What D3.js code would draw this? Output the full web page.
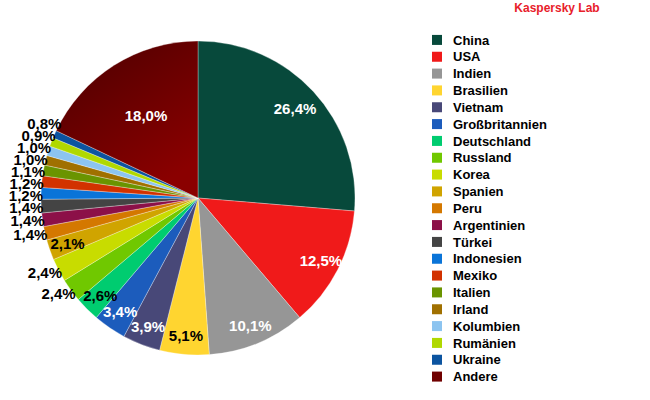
<!DOCTYPE html>
<html>
<head>
<meta charset="utf-8">
<style>
  body { margin: 0; background: #fff; }
  text { font-family: "Liberation Sans", Arial, sans-serif; font-weight: bold; }
</style>
</head>
<body>
<svg id="chart" width="650" height="400"></svg>
<script src="https://cdn.jsdelivr.net/npm/d3@7"></script>
<script>
  // data
  var countries = ["China", "USA", "Indien", "Brasilien", "Vietnam", "Großbritannien",
    "Deutschland", "Russland", "Korea", "Spanien", "Peru", "Argentinien", "Türkei",
    "Indonesien", "Mexiko", "Italien", "Irland", "Kolumbien", "Rumänien", "Ukraine", "Andere"];
  var shares = [26.4, 12.5, 10.1, 5.1, 3.9, 3.4, 2.6, 2.4, 2.4, 2.1, 1.4, 1.4, 1.4,
    1.2, 1.2, 1.1, 1.0, 1.0, 0.9, 0.8, 18.0];
  var colors = ["#07493b", "#f01a1a", "#969696", "#ffd530", "#484878", "#1c5cbc",
    "#00cc70", "#70c800", "#c8dc00", "#d0a400", "#d47800", "#8c1048", "#444444",
    "#0a74d8", "#d23200", "#6a9400", "#a07000", "#8cc4f0", "#b0d800", "#0c54a0", "#700000"];

  // which labels sit outside the pie, and label tweaks
  var outside = ["Russland", "Korea", "Peru", "Argentinien", "Türkei", "Indonesien",
    "Mexiko", "Italien", "Irland", "Kolumbien", "Rumänien", "Ukraine"];
  var whiteText = ["China", "USA", "Indien", "Vietnam", "Großbritannien", "Andere"];
  var labelRadius = { "China": 0.84, "Andere": 0.62 };

  var cx = 198, cy = 198, R = 157;
  var svg = d3.select("#chart");

  var defs = svg.append("defs");
  var grad = defs.append("linearGradient")
    .attr("id", "andere")
    .attr("x1", "0").attr("y1", "0").attr("x2", "0.6").attr("y2", "1");
  grad.append("stop").attr("offset", "0%").attr("stop-color", "#4a0000");
  grad.append("stop").attr("offset", "100%").attr("stop-color", "#8a0000");

  var fmt = v => d3.format(".1f")(v).replace(".", ",") + "%";

  var pie = d3.pie().sort(null).value(d => d.v);
  var slices = pie(countries.map((c, i) => ({ name: c, v: shares[i], color: colors[i] })));
  var arc = d3.arc().innerRadius(0).outerRadius(R);

  var g = svg.append("g").attr("transform", "translate(" + cx + "," + cy + ")");

  g.selectAll("path.slice")
    .data(slices)
    .enter()
    .append("path")
    .attr("class", "slice")
    .attr("d", arc)
    .attr("fill", d => d.data.name === "Andere" ? "url(#andere)" : d.data.color)
    .attr("stroke", "#ffffff")
    .attr("stroke-opacity", 0.5)
    .attr("stroke-width", 0.6);

  // inside labels
  var inner = slices.filter(d => outside.indexOf(d.data.name) < 0);
  g.selectAll("text.inner")
    .data(inner)
    .enter()
    .append("text")
    .attr("class", "inner")
    .attr("text-anchor", "middle")
    .attr("dy", "0.35em")
    .attr("font-size", "15px")
    .attr("fill", d => whiteText.indexOf(d.data.name) >= 0 ? "#ffffff" : "#000000")
    .attr("transform", d => {
      var a = (d.startAngle + d.endAngle) / 2;
      var r = R * (labelRadius[d.data.name] || 0.88);
      return "translate(" + (Math.sin(a) * r) + "," + (-Math.cos(a) * r) + ")";
    })
    .text(d => fmt(d.data.v));

  // outside labels: natural position then spread vertically
  var outs = slices.filter(d => outside.indexOf(d.data.name) >= 0).map(d => {
    var a = (d.startAngle + d.endAngle) / 2;
    return { d: d, y: -Math.cos(a) * (R + 6) };
  });
  outs.sort((a, b) => a.y - b.y);
  var gap = 12;
  for (var it = 0; it < 100; it++) {
    for (var i = 0; i < outs.length - 1; i++) {
      var diff = outs[i + 1].y - outs[i].y;
      if (diff < gap) {
        var push = (gap - diff) / 2;
        outs[i].y -= push;
        outs[i + 1].y += push;
      }
    }
  }

  g.selectAll("text.outer")
    .data(outs)
    .enter()
    .append("text")
    .attr("class", "outer")
    .attr("text-anchor", "end")
    .attr("dy", "0.35em")
    .attr("font-size", "15px")
    .attr("fill", "#000000")
    .attr("x", o => -Math.sqrt(Math.max(0, R * R - o.y * o.y)) + 2)
    .attr("y", o => o.y)
    .text(o => fmt(o.d.data.v));

  // title
  svg.append("text")
    .attr("x", 557)
    .attr("y", 12)
    .attr("text-anchor", "middle")
    .attr("font-size", "12px")
    .attr("fill", "#e8202a")
    .text("Kaspersky Lab");

  // legend
  var ly = d3.scaleBand().domain(countries).range([31.5, 385]);
  var legend = svg.append("g").selectAll("g")
    .data(countries)
    .enter()
    .append("g")
    .attr("transform", d => "translate(432," + (ly(d) + ly.bandwidth() / 2) + ")");

  legend.append("rect")
    .attr("x", 0)
    .attr("y", -5)
    .attr("width", 10)
    .attr("height", 10)
    .attr("fill", (d, i) => colors[i]);

  legend.append("text")
    .attr("x", 21)
    .attr("dy", "0.36em")
    .attr("font-size", "13px")
    .attr("fill", "#000000")
    .text(d => d);
</script>
</body>
</html>
